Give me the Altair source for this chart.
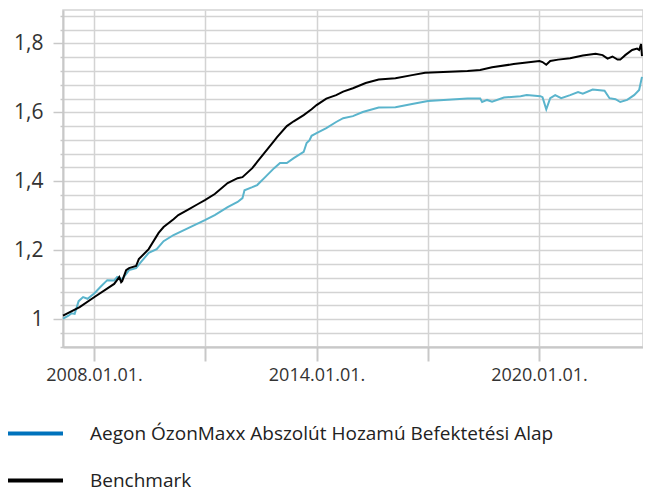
import altair as alt
import pandas as pd

FUND = "Aegon ÓzonMaxx Abszolút Hozamú Befektetési Alap"
BENCH = "Benchmark"

fund_dates = [
    "2007-03-01", "2007-04-20", "2007-05-25", "2007-06-24", "2007-08-02", "2007-09-15",
    "2007-10-29", "2008-01-05", "2008-03-03", "2008-05-10", "2008-07-17", "2008-08-16",
    "2008-10-04", "2008-12-11", "2009-02-18", "2009-04-06", "2009-06-22", "2009-09-09",
    "2009-11-16", "2010-02-22", "2010-07-16", "2010-12-28", "2011-04-04", "2011-08-09",
    "2011-11-15", "2012-01-02", "2012-01-22", "2012-04-08", "2012-05-26", "2012-08-03",
    "2012-11-09", "2013-01-06", "2013-03-14", "2013-05-21", "2013-08-27", "2013-09-25",
    "2013-10-24", "2013-11-13", "2014-01-01", "2014-04-07", "2014-07-13", "2014-09-20",
    "2014-12-25", "2015-04-01", "2015-09-05", "2016-02-17", "2016-07-30", "2017-01-03",
    "2018-01-27", "2018-06-01", "2018-06-20", "2018-08-08", "2018-09-26", "2019-01-21",
    "2019-07-04", "2019-09-02", "2020-01-15", "2020-02-05", "2020-03-13", "2020-04-21",
    "2020-06-09", "2020-08-07", "2020-11-03", "2021-01-20", "2021-03-08", "2021-06-13",
    "2021-10-08", "2021-11-26", "2022-01-24", "2022-03-12", "2022-05-19", "2022-07-26",
    "2022-09-14", "2022-10-12",
]
fund_values = [
    1.001, 1.009, 1.017, 1.015, 1.052, 1.064,
    1.059, 1.075, 1.093, 1.113, 1.112, 1.122,
    1.116, 1.142, 1.148, 1.165, 1.192, 1.203,
    1.226, 1.244, 1.264, 1.287, 1.302, 1.325,
    1.340, 1.351, 1.374, 1.383, 1.389, 1.409,
    1.438, 1.453, 1.453, 1.467, 1.485, 1.511,
    1.519, 1.532, 1.540, 1.554, 1.572, 1.583,
    1.589, 1.601, 1.614, 1.615, 1.624, 1.633,
    1.640, 1.640, 1.630, 1.636, 1.631, 1.643,
    1.647, 1.650, 1.647, 1.644, 1.609, 1.641,
    1.650, 1.641, 1.650, 1.659, 1.654, 1.666,
    1.663, 1.641, 1.638, 1.630, 1.636, 1.650,
    1.665, 1.703,
]

bench_dates = [
    "2007-03-01", "2007-08-12", "2008-01-05", "2008-07-17", "2008-09-05", "2008-09-24",
    "2008-10-04", "2008-11-12", "2008-12-11", "2009-02-18", "2009-03-17", "2009-06-22",
    "2009-09-28", "2009-11-16", "2010-02-22", "2010-04-10", "2010-07-16", "2010-10-21",
    "2010-12-28", "2011-04-04", "2011-08-09", "2011-11-15", "2012-01-02", "2012-04-08",
    "2012-05-26", "2012-11-09", "2012-12-08", "2013-03-14", "2013-05-21", "2013-08-27",
    "2013-11-13", "2014-01-01", "2014-04-07", "2014-07-13", "2014-09-20", "2014-12-25",
    "2015-04-30", "2015-09-05", "2016-02-17", "2016-07-30", "2016-12-05", "2018-01-27",
    "2018-06-01", "2018-09-26", "2019-04-27", "2020-01-06", "2020-02-05", "2020-03-13",
    "2020-04-21", "2020-07-08", "2020-11-03", "2021-03-08", "2021-07-12", "2021-09-19",
    "2021-11-07", "2021-12-25", "2022-02-13", "2022-03-12", "2022-04-30", "2022-07-07",
    "2022-08-25", "2022-09-14", "2022-10-03", "2022-10-12",
]
bench_values = [
    1.010, 1.035, 1.064, 1.102, 1.122, 1.107,
    1.110, 1.142, 1.148, 1.154, 1.174, 1.203,
    1.250, 1.267, 1.290, 1.302, 1.318, 1.334,
    1.345, 1.363, 1.395, 1.409, 1.412, 1.438,
    1.456, 1.517, 1.528, 1.560, 1.574, 1.592,
    1.609, 1.621, 1.640, 1.650, 1.660, 1.670,
    1.685, 1.695, 1.699, 1.708, 1.715, 1.720,
    1.723, 1.731, 1.740, 1.749, 1.746, 1.738,
    1.749, 1.753, 1.757, 1.765, 1.770, 1.766,
    1.756, 1.762, 1.753, 1.753, 1.766, 1.781,
    1.785, 1.781, 1.798, 1.763,
]

y_grid = [round(0.92 + 0.04 * i, 2) for i in range(25)]
x_tick_years = [2008, 2011, 2014, 2017, 2020]

df = pd.concat([
    pd.DataFrame({"date": pd.to_datetime(fund_dates), "value": fund_values, "series": FUND}),
    pd.DataFrame({"date": pd.to_datetime(bench_dates), "value": bench_values, "series": BENCH}),
], ignore_index=True)

FONT = "Open Sans"
GRID = "#d3d3d3"
major = "abs(datum.value*5 - round(datum.value*5)) < 0.001"

x_enc = alt.X(
    "date:T",
    scale=alt.Scale(domain=[alt.DateTime(year=2007, month=3, date=1),
                            alt.DateTime(year=2022, month=10, date=22)]),
    axis=alt.Axis(
        values=[alt.DateTime(year=y, month=1, date=1) for y in x_tick_years],
        labelExpr="year(datum.value) % 6 == 4 ? timeFormat(datum.value, '%Y.%m.%d.') : ''",
        grid=True, gridColor=GRID, gridWidth=1.5, tickCount=20,
        domainColor="#c8c8c8", domainWidth=2,
        tickColor="#c8c8c8", tickWidth=2, tickSize=14,
        labelFont=FONT, labelFontSize=18, labelColor="#333333",
        labelPadding=5, labelOverlap=False, labelFlush=False, title=None,
    ),
)
y_enc = alt.Y(
    "value:Q",
    scale=alt.Scale(domain=[0.919, 1.897], nice=False, zero=False),
    axis=alt.Axis(
        values=y_grid, tickCount=40,
        labelExpr=f"{major} ? replace(format(datum.value, '.1~f'), '.', ',') : ''",
        grid=True, gridColor=GRID, gridWidth=1.5,
        domainColor="#c8c8c8", domainWidth=2,
        tickColor="#c8c8c8", tickWidth=1.5,
        tickSize={"condition": {"test": major, "value": 10}, "value": 3},
        labelFont=FONT, labelFontSize=21, labelColor="#333333",
        labelPadding=10, labelOverlap=False, title=None,
    ),
)

# lines: stroke scale (no explicit domain, so its legend is not merged with the colour legend)
lines = alt.Chart(df).mark_line(strokeWidth=2, interpolate="linear").encode(
    x=x_enc,
    y=y_enc,
    stroke=alt.Stroke("series:N",
                      scale=alt.Scale(range=["#5ab4cc", "#000000"]),
                      legend=None),
    order=alt.Order("date:T"),
)

legend_layer = alt.Chart(df).mark_line().encode(
    x="date:T",
    y="value:Q",
    color=alt.Color(
        "series:N",
        scale=alt.Scale(domain=[FUND, BENCH], range=["#0072bc", "#000000"]),
        legend=alt.Legend(
            title=None, orient="none", legendX=-57, legendY=394,
            direction="vertical", symbolType="stroke", symbolSize=3025,
            symbolStrokeWidth=4, symbolOpacity=1, labelFont=FONT, labelFontSize=19,
            labelColor="#222222", labelOffset=25, padding=0, labelLimit=600,
            rowPadding=7,
        ),
    ),
).transform_filter("false")

chart = alt.layer(lines, legend_layer).properties(
    width=580, height=337,
    padding={"left": 55, "top": 2, "right": 0, "bottom": 150},
    autosize=alt.AutoSizeParams(type="none"),
).configure_view(stroke=GRID, strokeWidth=1.5)

chart.save("out.html", embed_options={"renderer": "svg", "actions": False})
